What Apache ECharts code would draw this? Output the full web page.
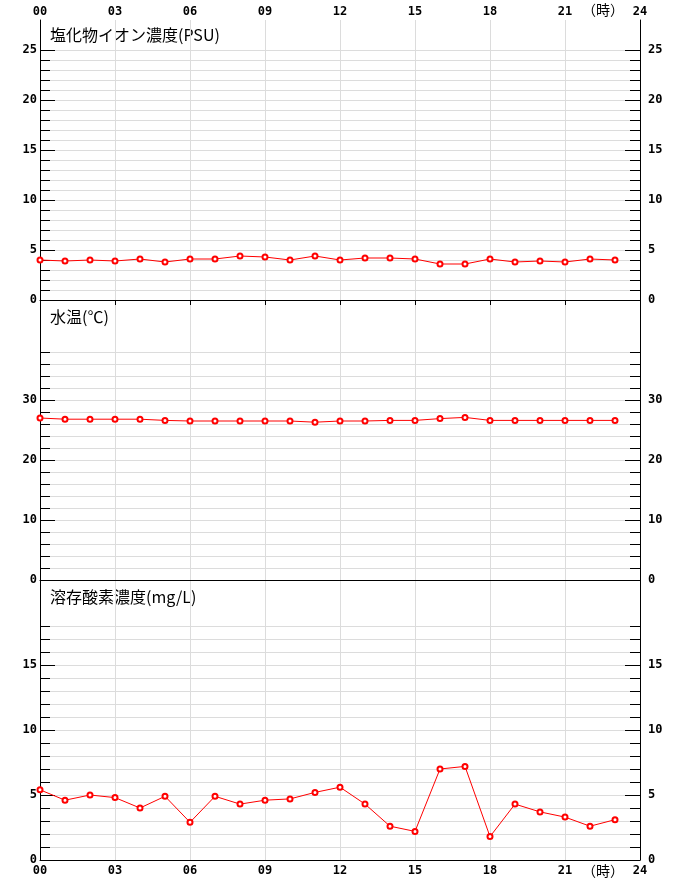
<!DOCTYPE html>
<html>
<head>
<meta charset="utf-8">
<script src="https://cdn.jsdelivr.net/npm/echarts@6/dist/echarts.min.js"></script>
<style>
  html, body { margin: 0; padding: 0; background: #fff; }
  #chart { width: 680px; height: 880px; }
</style>
</head>
<body>
<div id="chart"></div>
<script>
// 時刻 (0〜23時)
const hours = [0, 1, 2, 3, 4, 5, 6, 7, 8, 9, 10, 11, 12, 13, 14, 15, 16, 17, 18, 19, 20, 21, 22, 23]

// 塩化物イオン濃度 (PSU)
const salinity = [4.0, 3.9, 4.0, 3.9, 4.1, 3.8, 4.1, 4.1, 4.4, 4.3, 4.0, 4.4,
  4.0, 4.2, 4.2, 4.1, 3.6, 3.6, 4.1, 3.8, 3.9, 3.8, 4.1, 4.0]
// 水温 (℃)
const waterTemp = [27.0, 26.8, 26.8, 26.8, 26.8, 26.6, 26.5, 26.5, 26.5, 26.5, 26.5, 26.3,
  26.5, 26.5, 26.6, 26.6, 26.9, 27.1, 26.6, 26.6, 26.6, 26.6, 26.6, 26.6]
// 溶存酸素濃度 (mg/L)
const dissolvedO2 = [5.4, 4.6, 5.0, 4.8, 4.0, 4.9, 2.9, 4.9, 4.3, 4.6, 4.7, 5.2,
  5.6, 4.3, 2.6, 2.2, 7.0, 7.2, 1.8, 4.3, 3.7, 3.3, 2.6, 3.1]

// 目盛ラベル
const salinityLabels = [0, 5, 10, 15, 20, 25]
const tempLabels = [0, 10, 20, 30]
const doLabels = [0, 5, 10, 15]

function steps(last, step) {
  const out = []
  for (let v = 0; v <= last + 1e-9; v += step) out.push(v)
  return out
}

const panels = [
  { title: '塩化物イオン濃度(PSU)', data: salinity, max: 28, labels: salinityLabels, minor: steps(25, 1) },
  { title: '水温(℃)', data: waterTemp, max: 280 / 6, labels: tempLabels, minor: steps(38, 2) },
  { title: '溶存酸素濃度(mg/L)', data: dissolvedO2, max: 280 / 13, labels: doLabels, minor: steps(18, 1) },
]

const PLOT_TOP = 20
const PANEL_H = 280
const tickFont = { fontFamily: 'DejaVu Sans Mono', fontWeight: 'bold', fontSize: 12, color: '#000' }

const grids = []
const xAxes = []
const yAxes = []
const series = []
const graphics = []

panels.forEach((p, i) => {
  const top = PLOT_TOP + i * PANEL_H
  const last = i === panels.length - 1
  grids.push({ left: 40, width: 600, top: top, height: PANEL_H, show: false })

  xAxes.push({
    type: 'value', gridIndex: i, min: 0, max: 24, interval: 3,
    position: i === 0 ? 'top' : 'bottom',
    axisLine: { show: true, lineStyle: { color: '#000', width: 1 } },
    axisTick: { show: i === 0, inside: true, length: 5, lineStyle: { color: '#000' } },
    axisLabel: {
      show: i === 0 || last,
      ...tickFont,
      margin: i === 0 ? 2 : 5,
      formatter: v => String(v).padStart(2, '0'),
    },
    splitLine: { show: true, lineStyle: { color: '#dcdcdc', width: 1 } },
  })

  // 左右それぞれ: 長い目盛+ラベル / 短い目盛+補助線
  ;['left', 'right'].forEach(side => {
    yAxes.push({
      type: 'value', gridIndex: i, min: 0, max: p.max, position: side,
      axisLine: { show: true, lineStyle: { color: '#000', width: 1 } },
      axisTick: { show: true, inside: true, length: 15, customValues: p.labels, lineStyle: { color: '#000' } },
      axisLabel: { show: true, customValues: p.labels, ...tickFont, margin: side === 'left' ? 3 : 8 },
      splitLine: { show: false },
    })
    yAxes.push({
      type: 'value', gridIndex: i, min: 0, max: p.max, position: side,
      axisLine: { show: false },
      axisTick: { show: true, inside: true, length: 10, customValues: p.minor, lineStyle: { color: '#000' } },
      axisLabel: { show: false },
      splitLine: { show: side === 'left', lineStyle: { color: '#dcdcdc', width: 1 } },
    })
  })

  series.push({
    type: 'line',
    xAxisIndex: i,
    yAxisIndex: i * 4,
    data: hours.map((h, k) => [h, p.data[k]]),
    symbol: 'emptyCircle',
    symbolSize: 5,
    showSymbol: true,
    lineStyle: { color: '#ff0000', width: 1 },
    itemStyle: { color: '#ff0000', borderWidth: 1.2 },
    animation: false,
    z: 5,
  })

  graphics.push({
    type: 'text', left: 50, top: top + (i === 0 ? 7 : 9),
    style: { text: p.title, font: '16px "Noto Sans CJK JP"', fill: '#000' },
  })
})

// (時) の単位表示
;[10, 871].forEach(y => {
  graphics.push({
    type: 'text', x: 603, y: y,
    style: { text: '（時）', font: '14px "Noto Sans CJK JP"', fill: '#000', align: 'center', verticalAlign: 'middle' },
  })
})

const chart = echarts.init(document.getElementById('chart'), null, { renderer: 'canvas' })
chart.setOption({
  animation: false,
  backgroundColor: '#fff',
  grid: grids,
  xAxis: xAxes,
  yAxis: yAxes,
  series: series,
  graphic: graphics,
})
</script>
</body>
</html>
